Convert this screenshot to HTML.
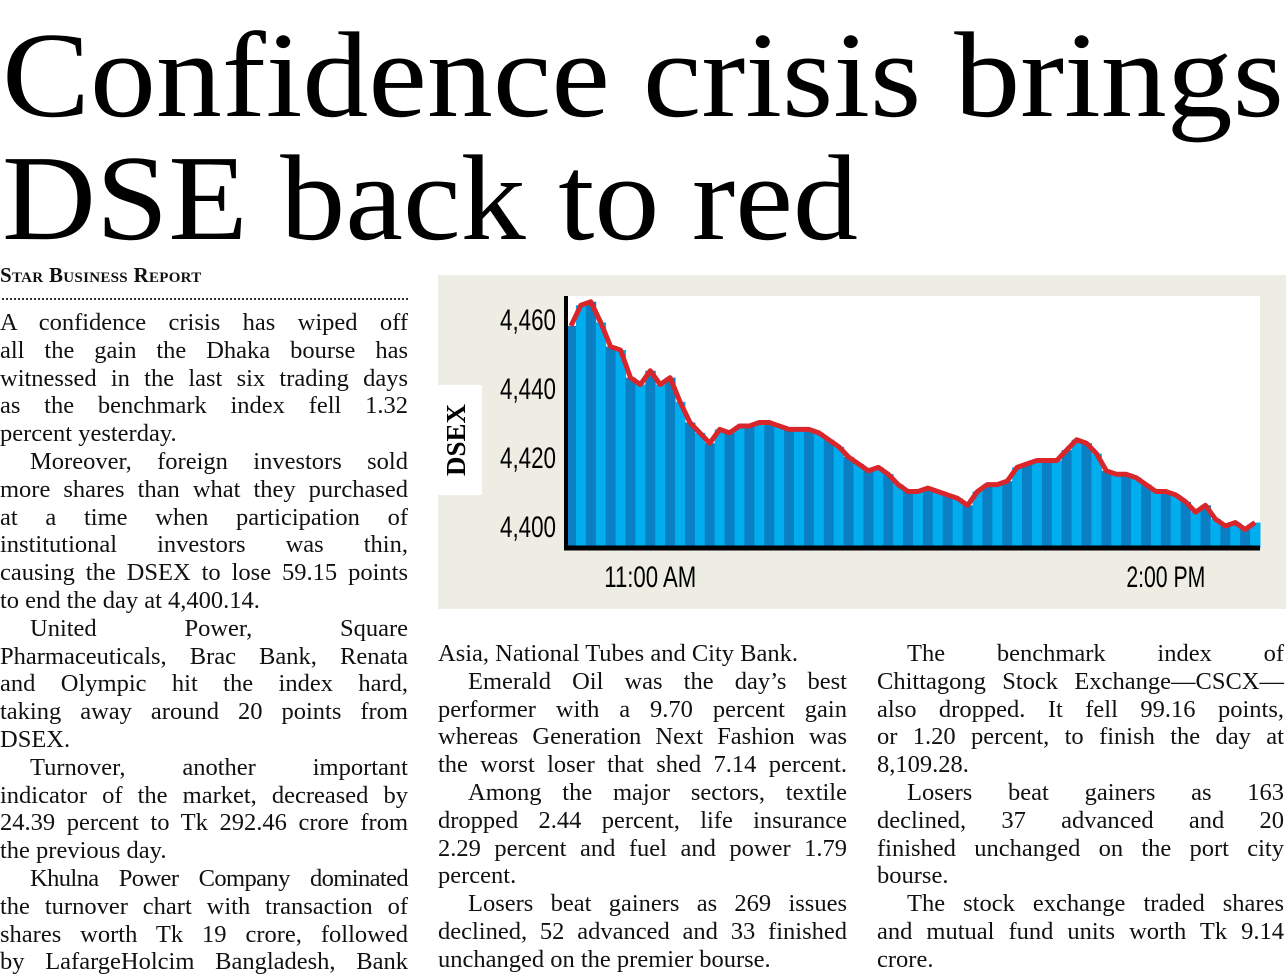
<!DOCTYPE html>
<html><head><meta charset="utf-8">
<style>
body{margin:0;width:1286px;height:979px;background:#fff;position:relative;overflow:hidden;font-family:"Liberation Serif",serif;color:#111}
.col{position:absolute;font-size:24.5px;line-height:27.8px;white-space:nowrap}
.col div{height:27.8px}
.j{text-align:justify;text-align-last:justify}
.i{text-indent:30px}
</style></head><body>
<svg style="position:absolute;left:0;top:0" width="1286" height="260">
<text x="2" y="116" font-family="Liberation Serif,serif" font-size="122" textLength="1282" lengthAdjust="spacingAndGlyphs">Confidence crisis brings</text>
<text x="2" y="239" font-family="Liberation Serif,serif" font-size="122" textLength="856" lengthAdjust="spacingAndGlyphs">DSE back to red</text>
</svg>
<div style="position:absolute;left:0;top:263px;font-size:21px;font-variant:small-caps;font-weight:bold;letter-spacing:0.3px">Star Business Report</div>
<div style="position:absolute;left:2px;top:298px;width:406px;border-top:2px dotted #333"></div>

<div class="col" style="left:0;top:309px;width:408px">
<div class="j">A confidence crisis has wiped off</div>
<div class="j">all the gain the Dhaka bourse has</div>
<div class="j">witnessed in the last six trading days</div>
<div class="j">as the benchmark index fell 1.32</div>
<div>percent yesterday.</div>
<div class="j i">Moreover, foreign investors sold</div>
<div class="j">more shares than what they purchased</div>
<div class="j">at a time when participation of</div>
<div class="j">institutional investors was thin,</div>
<div class="j">causing the DSEX to lose 59.15 points</div>
<div>to end the day at 4,400.14.</div>
<div class="j i">United Power, Square</div>
<div class="j">Pharmaceuticals, Brac Bank, Renata</div>
<div class="j">and Olympic hit the index hard,</div>
<div class="j">taking away around 20 points from</div>
<div>DSEX.</div>
<div class="j i">Turnover, another important</div>
<div class="j">indicator of the market, decreased by</div>
<div class="j">24.39 percent to Tk 292.46 crore from</div>
<div>the previous day.</div>
<div class="j i" style="letter-spacing:-0.6px;word-spacing:-3px">Khulna Power Company dominated</div>
<div class="j">the turnover chart with transaction of</div>
<div class="j">shares worth Tk 19 crore, followed</div>
<div class="j">by LafargeHolcim Bangladesh, Bank</div>
</div>

<div class="col" style="left:438px;top:640px;width:409px">
<div>Asia, National Tubes and City Bank.</div>
<div class="j i">Emerald Oil was the day’s best</div>
<div class="j">performer with a 9.70 percent gain</div>
<div class="j">whereas Generation Next Fashion was</div>
<div class="j">the worst loser that shed 7.14 percent.</div>
<div class="j i">Among the major sectors, textile</div>
<div class="j">dropped 2.44 percent, life insurance</div>
<div class="j">2.29 percent and fuel and power 1.79</div>
<div>percent.</div>
<div class="j i">Losers beat gainers as 269 issues</div>
<div class="j">declined, 52 advanced and 33 finished</div>
<div>unchanged on the premier bourse.</div>
</div>

<div class="col" style="left:877px;top:640px;width:407px">
<div class="j i">The benchmark index of</div>
<div class="j">Chittagong Stock Exchange—CSCX—</div>
<div class="j">also dropped. It fell 99.16 points,</div>
<div class="j">or 1.20 percent, to finish the day at</div>
<div>8,109.28.</div>
<div class="j i">Losers beat gainers as 163</div>
<div class="j">declined, 37 advanced and 20</div>
<div class="j">finished unchanged on the port city</div>
<div>bourse.</div>
<div class="j i">The stock exchange traded shares</div>
<div class="j">and mutual fund units worth Tk 9.14</div>
<div>crore.</div>
</div>

<svg id="chart" style="position:absolute;left:0;top:0" width="1286" height="979">
<rect x="438" y="275" width="848" height="334" fill="#eeede3"/>
<rect x="566" y="296" width="694" height="252" fill="#fff"/>
<rect x="438" y="385" width="44" height="110" fill="#fff"/>
<text transform="translate(465,440) rotate(-90)" text-anchor="middle" font-family="Liberation Serif,serif" font-weight="bold" font-size="27">DSEX</text>
<g id="bars"></g>
<g id="ticks"></g>
<line x1="566" y1="296" x2="566" y2="550" stroke="#000" stroke-width="4"/>
<line x1="564" y1="548" x2="1260" y2="548" stroke="#000" stroke-width="5"/>
</svg>
<script>
const yTicks=[4400,4420,4440,4460];
const yTickLabels=["4,400","4,420","4,440","4,460"];
const xTickLabels=["11:00 AM","2:00 PM"];
const xTickIndex=[8,60];
const values=[4458,4464,4465,4459,4452,4451,4443,4441,4445,4441,4443,4436,4430,4427,4424,4428,4427,4429,4429,4430,4430,4429,4428,4428,4428,4427,4425,4423,4420,4418,4416,4417,4415,4412,4410,4410,4411,4410,4409,4408,4406,4410,4412,4412,4413,4417,4418,4419,4419,4419,4422,4425,4424,4421,4416,4415,4415,4414,4412,4410,4410,4409,4407,4404,4406,4402,4400,4401,4399,4401];
const NS="http://www.w3.org/2000/svg";
const X0=566,X1=1260,YB=548;
function yScale(v){return 526-(v-4400)*3.45;}
function xScale(i){return X0+(i+0.5)*(X1-X0)/values.length;}
const bw=(X1-X0)/values.length;
const bars=document.getElementById('bars');
values.forEach((v,i)=>{
 const r=document.createElementNS(NS,'rect');
 
 
 r.setAttribute('x',xScale(i)-bw/2);r.setAttribute('width',bw+0.5);
 r.setAttribute('y',yScale(v));r.setAttribute('height',YB-yScale(v));
 r.setAttribute('fill',i%2?'#00aeef':'#0a7fc4');
 bars.appendChild(r);
});
const pl=document.createElementNS(NS,'polyline');


pl.setAttribute('points',values.map((v,i)=>xScale(i)+','+yScale(v)).join(' '));
pl.setAttribute('fill','none');pl.setAttribute('stroke','#d9262b');pl.setAttribute('stroke-width','5');pl.setAttribute('stroke-linejoin','round');
bars.appendChild(pl);
const ticks=document.getElementById('ticks');
yTicks.forEach((t,k)=>{
 const tx=document.createElementNS(NS,'text');
 
 
 tx.setAttribute('x',556);tx.setAttribute('y',yScale(t)+11);
 tx.setAttribute('text-anchor','end');tx.setAttribute('font-family','Liberation Sans,sans-serif');tx.setAttribute('font-size','30');
 tx.setAttribute('textLength','56');tx.setAttribute('lengthAdjust','spacingAndGlyphs');
 tx.textContent=yTickLabels[k];ticks.appendChild(tx);
});
xTickIndex.forEach((ix,k)=>{
 const tx=document.createElementNS(NS,'text');
 
 
 tx.setAttribute('x',xScale(ix));tx.setAttribute('y',587);
 tx.setAttribute('text-anchor','middle');tx.setAttribute('font-family','Liberation Sans,sans-serif');tx.setAttribute('font-size','30');
 tx.setAttribute('textLength',k==0?'92':'79');tx.setAttribute('lengthAdjust','spacingAndGlyphs');
 tx.textContent=xTickLabels[k];ticks.appendChild(tx);
});
</script>
</body></html>
